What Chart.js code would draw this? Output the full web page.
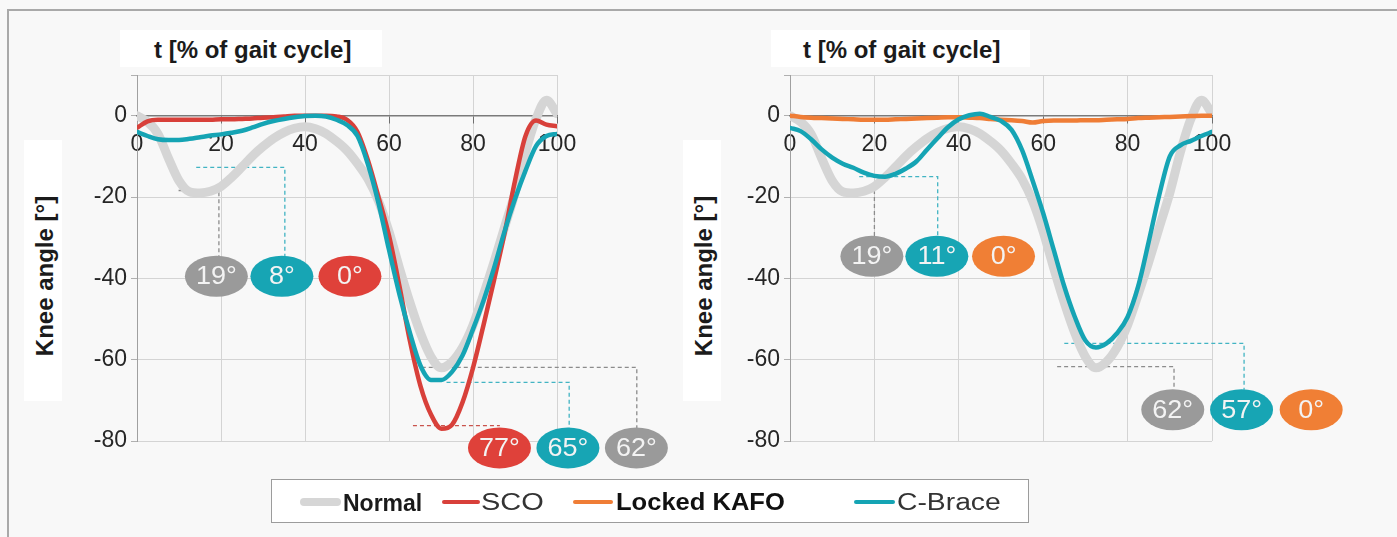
<!DOCTYPE html>
<html>
<head>
<meta charset="utf-8">
<script src="https://cdn.jsdelivr.net/npm/chart.js@4/dist/chart.umd.min.js"></script>
<style>
  html, body { margin: 0; padding: 0; background: #f8f8f8; }
  body { width: 1397px; height: 537px; position: relative; overflow: hidden;
         font-family: "Liberation Sans", Arial, sans-serif; }
  .frame { position: absolute; left: 7px; top: 9px; width: 1420px; height: 560px;
           border-left: 2px solid #a9a9a9; border-top: 2px solid #a9a9a9; }
  canvas { position: absolute; top: 0; }
  #kneeLeft { left: 0; }
  #kneeRight { left: 690px; }
  .xtitle { position: absolute; top: 30px; height: 37px; background: #fff;
            font-weight: bold; font-size: 24px; line-height: 39px; color: #1b1b1b;
            white-space: nowrap; box-sizing: border-box; }
  .ybox { position: absolute; top: 140px; width: 38px; height: 261px; background: #fff; }
  .ytitle { position: absolute; top: 276px; font-weight: bold; font-size: 24px; color: #1b1b1b;
            white-space: nowrap; transform: translate(-50%, -50%) rotate(-90deg); }
  .legend { position: absolute; left: 271px; top: 479px; width: 758px; height: 44px;
            background: #fff; border: 1.5px solid #9c9c9c; box-sizing: border-box; }
  .swatch { position: absolute; border-radius: 3px; }
  .ltext { position: absolute; top: 0; line-height: 44px; font-size: 23px; white-space: nowrap;
           transform-origin: left center; }
</style>
</head>
<body>
<div class="frame"></div>
<canvas id="kneeLeft" width="690" height="537"></canvas>
<canvas id="kneeRight" width="707" height="537"></canvas>

<div class="xtitle" style="left:120px;width:262px;padding-left:34px;">t [% of gait cycle]</div>
<div class="xtitle" style="left:771px;width:259px;padding-left:32px;">t [% of gait cycle]</div>
<div class="ybox" style="left:24px;"></div>
<div class="ybox" style="left:683px;"></div>
<div class="ytitle" style="left:45px;">Knee angle [°]</div>
<div class="ytitle" style="left:704px;">Knee angle [°]</div>

<div class="legend">
  <div class="swatch" style="left:28px;top:18px;width:41px;height:8px;background:#d6d6d6;border-radius:4px;"></div>
  <div class="ltext" style="left:71px;font-weight:bold;color:#1a1a1a;line-height:47px;">Normal</div>
  <div class="swatch" style="left:170px;top:20px;width:38px;height:4px;background:#d8403a;"></div>
  <div class="ltext" style="left:209px;color:#333;transform:scaleX(1.26);">SCO</div>
  <div class="swatch" style="left:301px;top:20px;width:40px;height:4px;background:#ef7d36;"></div>
  <div class="ltext" style="left:344px;font-weight:bold;color:#111;transform:scaleX(1.11);">Locked KAFO</div>
  <div class="swatch" style="left:582px;top:20px;width:41px;height:4px;background:#15a4b4;"></div>
  <div class="ltext" style="left:625px;color:#333;transform:scaleX(1.23);">C-Brace</div>
</div>

<script>
// Percent of gait cycle at which every knee angle sample is taken
const gaitPct = [0, 2.5, 5, 7.5, 10, 12.5, 15, 17.5, 20, 22.5, 25, 27.5, 30, 32.5, 35, 37.5, 40,
  42.5, 45, 47.5, 50, 52.5, 55, 57.5, 60, 62.5, 65, 67.5, 70, 72.5, 75, 77.5, 80, 82.5, 85,
  87.5, 90, 92.5, 95, 97.5, 100];

// Knee angle [°] (flexion negative)
const normalKnee = [0, -1.5, -4.5, -10.5, -16, -18.7, -19, -18.6, -17.4, -15.2, -12.6, -9.9,
  -7.6, -5.6, -4.1, -3.1, -2.7, -3.2, -4.4, -6.3, -8.6, -11.8, -15.6, -21, -28.5, -37.5, -46,
  -53.5, -59.3, -62, -60.5, -57, -51.5, -44, -36, -27.5, -19, -9, -0.8, 3.8, 0.5];

const scoKnee = [-3, -1.4, -1, -1, -1, -1, -1, -1, -0.9, -0.9, -0.8, -0.7, -0.5, -0.4, -0.2,
  0, 0, 0, 0, -0.2, -1, -4, -11, -20, -29.5, -42, -55.5, -66.5, -73.5, -77, -76, -70.5, -62,
  -51.5, -40.5, -29, -16, -5, -1.2, -2.2, -2.6];

const cBraceKneeA = [-4, -5, -5.8, -6, -6, -5.7, -5.3, -4.9, -4.6, -4.2, -3.7, -2.9, -2, -1.3,
  -0.8, -0.4, -0.1, 0, -0.2, -1, -2.3, -5, -12, -21.5, -33, -44, -53.5, -61.5, -65, -65, -63,
  -59, -52.5, -45.5, -37.5, -28.5, -20.5, -13.5, -7.5, -5, -4.5];

const lockedKafoKnee = [0, -0.3, -0.5, -0.6, -0.7, -0.8, -0.9, -1, -1, -1, -0.9, -0.8, -0.7,
  -0.6, -0.5, -0.4, -0.4, -0.5, -0.6, -0.8, -1, -1.1, -1.3, -1.7, -1.3, -1.2, -1.2, -1.2, -1.1,
  -1.1, -1, -0.9, -0.8, -0.6, -0.5, -0.4, -0.3, -0.2, -0.1, 0, 0];

const cBraceKneeB = [-3, -3.8, -5.8, -8.3, -10.3, -11.8, -12.8, -14, -14.8, -15, -14.3, -13,
  -11.2, -8.3, -5.5, -2.8, -0.9, 0.1, 0.5, -0.3, -1.3, -3.5, -8.5, -16, -24, -33, -42, -49.5,
  -55.3, -57, -56, -53.5, -49.5, -42, -31, -19.5, -10, -7.3, -6.2, -5, -4];

// Flexion values printed in the badges [°]
const stanceFlexA = [19, 8, 0];   // Normal, C-Brace, SCO
const swingFlexA = [77, 65, 62];  // SCO, C-Brace, Normal
const stanceFlexB = [19, 11, 0];  // Normal, C-Brace, Locked KAFO
const swingFlexB = [62, 57, 0];   // Normal, C-Brace, Locked KAFO

const xTicks = [0, 20, 40, 60, 80, 100];
const yTicks = [-80, -60, -40, -20, 0];

const COLORS = { normal: '#d5d5d5', sco: '#d8403a', kafo: '#ef7d36', cbrace: '#15a4b4',
  badgeGray: '#9a9a9a', badgeTeal: '#17a5b4', badgeRed: '#df413a', badgeOrange: '#f07f35',
  dashGray: '#8c8c8c', dashTeal: '#42b4c3', dashRed: '#c9534c' };

function series(label, values, color, width, order) {
  return {
    label, order,
    data: gaitPct.map((t, i) => ({ x: t, y: values[i] })),
    borderColor: color, borderWidth: width, pointRadius: 0, fill: false,
    cubicInterpolationMode: 'monotone', borderCapStyle: 'round', borderJoinStyle: 'round'
  };
}

// Dashed leader lines and value badges
const calloutPlugin = {
  id: 'callouts',
  beforeDatasetsDraw(chart, args, opts) {
    const { ctx, scales: { x, y } } = chart;
    ctx.save();
    ctx.lineWidth = 1.3;
    ctx.setLineDash([4, 3]);
    for (const l of opts.leaders) {
      const yy = y.getPixelForValue(l.level);
      const x2 = x.getPixelForValue(l.to);
      ctx.strokeStyle = l.color;
      ctx.beginPath();
      ctx.moveTo(x.getPixelForValue(l.from), yy);
      ctx.lineTo(x2, yy);
      if (l.row !== undefined) {
        ctx.lineTo(x2, y.getPixelForValue(opts.rows[l.row]) - 20);
      }
      ctx.stroke();
    }
    ctx.restore();
  },
  afterDatasetsDraw(chart, args, opts) {
    const { ctx, scales: { x, y } } = chart;
    ctx.save();
    for (const b of opts.badges) {
      const cx = x.getPixelForValue(b.at);
      const cy = y.getPixelForValue(opts.rows[b.row]);
      ctx.fillStyle = b.color;
      ctx.beginPath();
      ctx.ellipse(cx, cy, 31.5, 20.5, 0, 0, Math.PI * 2);
      ctx.fill();
      ctx.translate(cx, cy + 1);
      ctx.scale(1.08, 1);
      ctx.fillStyle = '#f3f3f3';
      ctx.font = '25px "Liberation Sans", Arial, sans-serif';
      ctx.textAlign = 'center';
      ctx.textBaseline = 'middle';
      ctx.fillText(b.value + '°', 0, 0);
      ctx.setTransform(1, 0, 0, 1, 0, 0);
    }
    ctx.restore();
  }
};

const tickFont = { family: '"Liberation Sans", Arial, sans-serif', size: 23 };

function kneeChart(id, datasets, axisWidth, padRight, callouts) {
  return new Chart(document.getElementById(id), {
    type: 'line',
    data: { datasets },
    plugins: [calloutPlugin],
    options: {
      responsive: false,
      animation: false,
      layout: { padding: { left: 0, top: 75, right: padRight, bottom: 96 } },
      plugins: { legend: { display: false }, tooltip: { enabled: false }, callouts },
      scales: {
        x: {
          type: 'linear', min: 0, max: 100, position: { y: 0 },
          afterBuildTicks: s => { s.ticks = xTicks.map(v => ({ value: v })); },
          afterFit: s => { s.height = 0; },
          ticks: { font: tickFont, color: '#262626', padding: 8, maxRotation: 0, autoSkip: false },
          grid: { color: '#d4d4d4', lineWidth: 1, tickLength: 7, tickColor: '#6f6f6f' },
          border: { color: '#7a7a7a', width: 1.5 }
        },
        y: {
          type: 'linear', min: -80, max: 10,
          afterBuildTicks: s => { s.ticks = yTicks.concat([10]).map(v => ({ value: v })); },
          afterFit: s => { s.width = axisWidth; },
          ticks: { font: tickFont, color: '#262626', padding: 4,
                   callback: v => (v === 10 ? '' : String(v)) },
          grid: { color: '#d4d4d4', lineWidth: 1, tickLength: 6, tickColor: '#b0b0b0' },
          border: { color: '#a0a0a0', width: 1 }
        }
      }
    }
  });
}

kneeChart('kneeLeft', [
  series('Normal', normalKnee, COLORS.normal, 9, 3),
  series('SCO', scoKnee, COLORS.sco, 4.5, 2),
  series('C-Brace', cBraceKneeA, COLORS.cbrace, 4.5, 1)
], 137, 133, {
  rows: [-39.5, -81.7],
  leaders: [
    { from: 9.9, to: 19.5, level: -18.4, row: 0, color: COLORS.dashGray },
    { from: 14.1, to: 35.2, level: -12.7, row: 0, color: COLORS.dashTeal },
    { from: 67.8, to: 119, level: -61.9, row: 1, color: COLORS.dashGray },
    { from: 73.7, to: 102.9, level: -65.6, row: 1, color: COLORS.dashTeal },
    { from: 65.7, to: 86.4, level: -76.2, color: COLORS.dashRed }
  ],
  badges: [
    { at: 18.9, row: 0, value: stanceFlexA[0], color: COLORS.badgeGray },
    { at: 34.5, row: 0, value: stanceFlexA[1], color: COLORS.badgeTeal },
    { at: 50.7, row: 0, value: stanceFlexA[2], color: COLORS.badgeRed },
    { at: 86.3, row: 1, value: swingFlexA[0], color: COLORS.badgeRed },
    { at: 102.6, row: 1, value: swingFlexA[1], color: COLORS.badgeTeal },
    { at: 118.9, row: 1, value: swingFlexA[2], color: COLORS.badgeGray }
  ]
});

kneeChart('kneeRight', [
  series('Normal', normalKnee, COLORS.normal, 9, 3),
  series('Locked KAFO', lockedKafoKnee, COLORS.kafo, 4.5, 2),
  series('C-Brace', cBraceKneeB, COLORS.cbrace, 4.5, 1)
], 100, 185, {
  rows: [-34.6, -72.3],
  leaders: [
    { from: 11.6, to: 20, level: -18.4, row: 0, color: COLORS.dashGray },
    { from: 16.4, to: 35, level: -15, row: 0, color: COLORS.dashTeal },
    { from: 65, to: 107.6, level: -56, row: 1, color: COLORS.dashTeal },
    { from: 63.3, to: 91, level: -61.7, row: 1, color: COLORS.dashGray }
  ],
  badges: [
    { at: 19.4, row: 0, value: stanceFlexB[0], color: COLORS.badgeGray },
    { at: 34.8, row: 0, value: stanceFlexB[1], color: COLORS.badgeTeal },
    { at: 50.6, row: 0, value: stanceFlexB[2], color: COLORS.badgeOrange },
    { at: 90.7, row: 1, value: swingFlexB[0], color: COLORS.badgeGray },
    { at: 107, row: 1, value: swingFlexB[1], color: COLORS.badgeTeal },
    { at: 123.5, row: 1, value: swingFlexB[2], color: COLORS.badgeOrange }
  ]
});
</script>
</body>
</html>
